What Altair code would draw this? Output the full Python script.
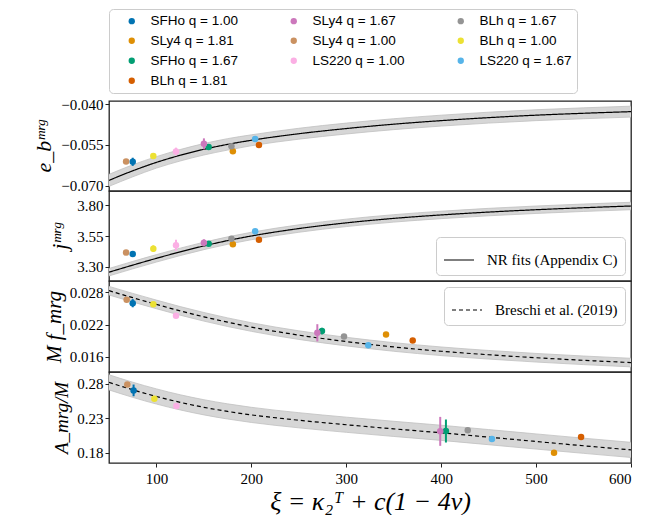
import altair as alt
import pandas as pd

# ---------------- data ----------------
runs = ["SFHo q = 1.00", "SLy4 q = 1.81", "SFHo q = 1.67", "BLh q = 1.81", "SLy4 q = 1.67",
        "SLy4 q = 1.00", "LS220 q = 1.00", "BLh q = 1.67", "BLh q = 1.00", "LS220 q = 1.67"]
colors = ["#0173b2", "#de8f05", "#029e73", "#d55e00", "#cc78bc",
          "#ca9161", "#fbafe4", "#949494", "#ece133", "#56b4e9"]

# xi positions of the simulations (panels 1-2, panel 3, panel 4)
xi_nr = [75, 180.5, 155, 208, 150, 68, 120.6, 179, 96.7, 204]
xi_f = [75, 341.9, 274.4, 370, 269.5, 68.6, 120.6, 297.6, 96.7, 323.2]
xi_a = [75.9, 518.9, 405, 547.4, 399, 69.3, 121, 428, 97.8, 453.5]

eb_val = [-0.0612, -0.0573, -0.0558, -0.0550, -0.0546, -0.0611, -0.0574, -0.0555, -0.0591, -0.0528]
eb_err = [0.0015, 0.0, 0.0010, 0.0, 0.0020, 0.0, 0.0014, 0.0008, 0.0008, 0.0004]
j_val = [3.405, 3.483, 3.488, 3.520, 3.496, 3.416, 3.475, 3.528, 3.448, 3.588]
j_err = [0.024, 0.0, 0.012, 0.0, 0.027, 0.0, 0.045, 0.010, 0.027, 0.010]
f_val = [0.02598, 0.02017, 0.02080, 0.01903, 0.02048, 0.02661, 0.02364, 0.01979, 0.02579, 0.01815]
f_err = [0.00076, 0.0, 0.00060, 0.0, 0.00160, 0.0, 0.0, 0.0, 0.0, 0.0]
a_val = [0.2703, 0.1800, 0.2114, 0.2027, 0.2109, 0.2790, 0.2476, 0.2124, 0.2583, 0.1998]
a_err = [0.0085, 0.0, 0.0167, 0.0, 0.0210, 0.0, 0.0, 0.0, 0.0, 0.0]

# fit curves
fit_xi = [50, 75, 100, 125, 150, 175, 200, 250, 300, 350, 400, 450, 500, 550, 600]
eb_fit = [-0.0680, -0.0645, -0.0614, -0.0588, -0.0566, -0.0548, -0.0533, -0.0509, -0.0490,
          -0.0474, -0.0461, -0.0450, -0.0441, -0.0434, -0.0428]
eb_band = [0.0022, 0.0022, 0.0021, 0.0021, 0.0021, 0.0021, 0.0020, 0.0020, 0.0020,
           0.0020, 0.0020, 0.0020, 0.0020, 0.0020, 0.0020]
j_fit = [3.258, 3.315, 3.370, 3.422, 3.470, 3.513, 3.550, 3.610, 3.656, 3.692, 3.720,
         3.743, 3.762, 3.778, 3.792]
j_band = [0.03] * 15
f_fit = [0.02830, 0.02700, 0.02575, 0.02455, 0.02345, 0.02245, 0.02155, 0.02005, 0.01885,
         0.01785, 0.01705, 0.01640, 0.01585, 0.01537, 0.01495]
f_band = [0.0008] * 15
a_fit = [0.2820, 0.2712, 0.2615, 0.2530, 0.2458, 0.2398, 0.2348, 0.2270, 0.2205, 0.2145,
         0.2088, 0.2025, 0.1962, 0.1900, 0.1840]
a_band = [0.011] * 15

# order of the legend domain so that the three columns read as in the figure
legend_idx = [0, 1, 2, 9, 4, 5, 6, 3, 7, 8]
legend_order = [runs[i] for i in legend_idx]
legend_colors = [colors[i] for i in legend_idx]

SERIF = "Liberation Serif"
W = 522

color_enc = alt.Color(
    "run:N",
    scale=alt.Scale(domain=legend_order, range=legend_colors),
    legend=alt.Legend(
        title=None, orient="none", legendX=0, legendY=-92,
        columns=3, columnPadding=38, rowPadding=5,
        symbolType="circle", symbolSize=40, symbolStrokeWidth=0, symbolOffset=11,
        labelFont="Liberation Sans", labelFontSize=13.5, labelColor="black",
        labelOffset=12, padding=5, strokeColor="#cccccc", fillColor="white",
        cornerRadius=4, labelLimit=300,
    ),
)


def panel(pxi, pval, perr, fval, fband, ydom, yticks, yfmt, ytitle, height,
          bottom=False, fit_label=None, dash=(1, 0), legend_orient=None, title_size=22):
    fit = pd.DataFrame({"xi": fit_xi, "y": fval,
                        "lo": [v - b for v, b in zip(fval, fband)],
                        "hi": [v + b for v, b in zip(fval, fband)],
                        "fit": [fit_label or "fit"] * len(fit_xi)})
    pts = pd.DataFrame({"run": runs, "xi": pxi, "y": pval,
                        "lo": [v - e for v, e in zip(pval, perr)],
                        "hi": [v + e for v, e in zip(pval, perr)]})
    if bottom:
        xaxis = alt.Axis(values=[100, 200, 300, 400, 500, 600], format="d",
                         title="ξ = κ₂ᵀ + c(1 − 4ν)", titleFontSize=26,
                         titleFontStyle="italic", titlePadding=2, labelPadding=4)
    else:
        xaxis = None
    x = alt.X("xi:Q", scale=alt.Scale(domain=[50, 600], nice=False, zero=False), axis=xaxis)
    yscale = alt.Scale(domain=ydom, nice=False, zero=False)
    yaxis = alt.Axis(values=yticks, format=yfmt, title=ytitle, titleFontSize=title_size,
                     titleFontStyle="italic", titlePadding=5)
    band = alt.Chart(fit).mark_area(color="#d6d6d6", opacity=1, clip=True,
                                    interpolate="monotone").encode(
        x=x, y=alt.Y("lo:Q", scale=yscale, axis=yaxis), y2="hi:Q")
    edges_lo = alt.Chart(fit).mark_line(color="#c0c0c0", strokeWidth=0.8, clip=True,
                                        interpolate="monotone").encode(
        x=x, y=alt.Y("lo:Q", scale=yscale))
    edges_hi = alt.Chart(fit).mark_line(color="#c0c0c0", strokeWidth=0.8, clip=True,
                                        interpolate="monotone").encode(
        x=x, y=alt.Y("hi:Q", scale=yscale))
    if legend_orient:
        sd = alt.StrokeDash("fit:N", scale=alt.Scale(domain=[fit_label], range=[list(dash)]),
                            legend=alt.Legend(title=None, orient=legend_orient, offset=6,
                                              symbolType="stroke", symbolSize=900,
                                              symbolStrokeWidth=1.2, symbolStrokeColor="black",
                                              labelFont=SERIF, labelFontSize=15,
                                              labelColor="black", labelOffset=12,
                                              padding=7, strokeColor="#cccccc",
                                              fillColor="white", cornerRadius=4))
    else:
        sd = alt.value(list(dash))
    line = alt.Chart(fit).mark_line(color="black", strokeWidth=1.2, interpolate="monotone",
                                    clip=True).encode(x=x, y=alt.Y("y:Q", scale=yscale),
                                                      strokeDash=sd)
    errs = alt.Chart(pts).mark_rule(strokeWidth=2, clip=True).encode(
        x=x, y=alt.Y("lo:Q", scale=yscale), y2="hi:Q", color=color_enc)
    dots = alt.Chart(pts).mark_circle(size=42, opacity=1, clip=True).encode(
        x=x, y=alt.Y("y:Q", scale=yscale), color=color_enc)
    return alt.layer(band, edges_lo, edges_hi, line, errs, dots).properties(
        width=W, height=height)


p1 = panel(xi_nr, eb_val, eb_err, eb_fit, eb_band, [-0.0719, -0.0389],
           [-0.070, -0.055, -0.040], ".3f", "e_bᵐʳᵍ", 90)
p2 = panel(xi_nr, j_val, j_err, j_fit, j_band, [3.187, 3.913],
           [3.30, 3.55, 3.80], ".2f", "jᵐʳᵍ", 90,
           fit_label="NR fits (Appendix C)", dash=(1, 0), legend_orient="bottom-right")
p3 = panel(xi_f, f_val, f_err, f_fit, f_band, [0.0132, 0.0301],
           [0.016, 0.022, 0.028], ".3f", "M f_mrg", 91,
           fit_label="Breschi et al. (2019)", dash=(4, 3), legend_orient="top-right",
           title_size=21)
p4 = panel(xi_a, a_val, a_err, a_fit, a_band, [0.165, 0.297],
           [0.18, 0.23, 0.28], ".2f", "A_mrg/M", 91, bottom=True, dash=(4, 3),
           title_size=19)

chart = alt.vconcat(p1, p2, p3, p4, spacing=0, bounds="flush").resolve_scale(
    strokeDash="independent").resolve_legend(strokeDash="independent").properties(
    padding={"left": 24, "top": 0, "right": 5, "bottom": 0}
).configure_view(stroke="#222222", strokeWidth=1.3).configure_axis(
    domain=False, grid=False, tickColor="#222222", tickSize=4, tickWidth=1,
    labelFont=SERIF, labelFontSize=15, labelColor="black",
    titleFont=SERIF, titleColor="black", titleFontWeight="normal")

chart.save("out.html", embed_options={"renderer": "svg", "actions": False})
